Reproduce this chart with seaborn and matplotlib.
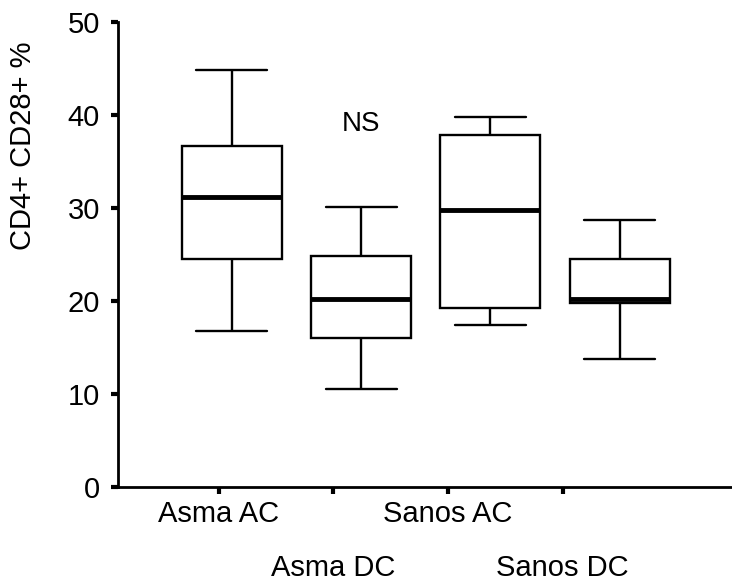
import numpy as np
import pandas as pd
import matplotlib
matplotlib.use("Agg")
import matplotlib.pyplot as plt
import seaborn as sns
from matplotlib.transforms import ScaledTranslation

# ---- data (five-number summaries) ----
categories = ["Asma AC", "Asma DC", "Sanos AC", "Sanos DC"]
whisker_low = [16.8, 10.5, 17.4, 13.8]
q1 = [24.5, 16.0, 19.2, 19.8]
median = [31.2, 20.2, 29.8, 20.2]
q3 = [36.7, 24.8, 37.9, 24.5]
whisker_high = [44.8, 30.1, 39.8, 28.7]
y_ticks = [0, 10, 20, 30, 40, 50]
y_label = "CD4+ CD28+ %"
annotation = "NS"

rows = []
for c, lo, a, m, b, hi in zip(categories, whisker_low, q1, median, q3, whisker_high):
    for v in (lo, a, m, b, hi):
        rows.append({"group": c, "value": v})
df = pd.DataFrame(rows)

sns.set_theme(style="ticks")
plt.rcParams["font.family"] = ["Liberation Sans", "DejaVu Sans"]

fig = plt.figure(figsize=(7.32, 5.81), dpi=100)
ax = fig.add_axes([118 / 732, 94 / 581, 614 / 732, 465 / 581])

sns.boxplot(
    data=df, x="group", y="value", order=categories,
    whis=(0, 100), width=0.775, color="white", linecolor="black",
    linewidth=1.7, showfliers=False,
    medianprops=dict(linewidth=3.5, color="black"),
    capwidths=0.55, ax=ax,
)

sns.despine(ax=ax)
for s in ("left", "bottom"):
    ax.spines[s].set_linewidth(2.0)
    ax.spines[s].set_color("black")

ax.set_ylim(0, 50)
ax.set_yticks(y_ticks)
ax.set_xlim(-0.882, 3.870)
ax.set_xticks([-0.10, 0.78, 1.67, 2.56])
ax.set_xticklabels(categories)
ax.tick_params(axis="both", direction="out", length=5, width=3, color="black",
               labelsize=21, labelcolor="black")
ax.tick_params(axis="y", pad=8)
ax.tick_params(axis="x", pad=4.5)

offset = ScaledTranslation(0, -54 / 100, fig.dpi_scale_trans)
for i, lab in enumerate(ax.get_xticklabels()):
    if i % 2 == 1:
        lab.set_transform(lab.get_transform() + offset)

ax.set_xlabel("")
ax.set_ylabel(y_label, fontsize=21, color="black")
ax.yaxis.set_label_coords(-0.132, 0.733)

ax.text(1.0, 39.0, annotation, ha="center", va="center", fontsize=20, color="black")

fig.savefig("out.png", dpi=100)
